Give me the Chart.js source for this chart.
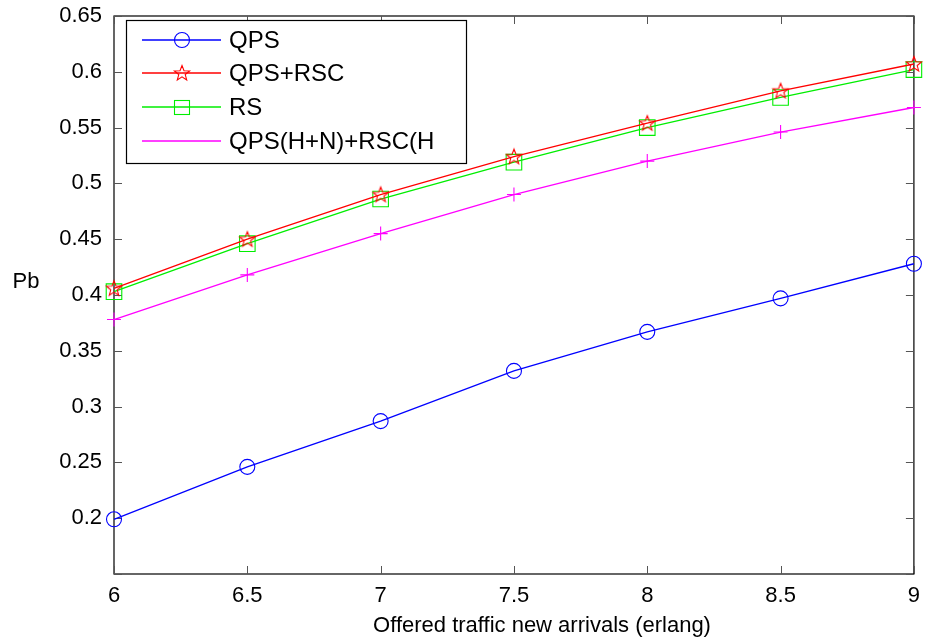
<!DOCTYPE html>
<html><head><meta charset="utf-8">
<script src="https://cdn.jsdelivr.net/npm/chart.js@4.4.0/dist/chart.umd.min.js"></script>
<style>html,body{margin:0;padding:0;background:#fff;}#wrap{width:926px;height:639px;position:relative;}</style>
</head><body><div id="wrap"><canvas id="c" width="926" height="639"></canvas></div>
<script>
const xValues = [6, 6.5, 7, 7.5, 8, 8.5, 9];
const qps = [0.199, 0.246, 0.287, 0.332, 0.367, 0.397, 0.428];
const qpsRsc = [0.406, 0.450, 0.490, 0.524, 0.554, 0.583, 0.607];
const rs = [0.403, 0.446, 0.486, 0.519, 0.550, 0.577, 0.602];
const qpsHN = [0.378, 0.418, 0.455, 0.490, 0.520, 0.546, 0.568];
const seriesNames = ['QPS', 'QPS+RSC', 'RS', 'QPS(H+N)+RSC(H'];
const xTitle = 'Offered traffic new arrivals (erlang)';
const yTitle = 'Pb';
const FONT = '"Liberation Sans", Arial, sans-serif';

function starImage(color){
  const s = 20, c = document.createElement('canvas'); c.width = s; c.height = s;
  const g = c.getContext('2d'); g.strokeStyle = color; g.lineWidth = 1.1;
  g.beginPath();
  const cx = s/2, cy = s/2 + 0.5, R = 8, r = 3.4;
  for (let i = 0; i < 10; i++) {
    const a = -Math.PI/2 + i*Math.PI/5, rr = i%2 ? r : R;
    const px = cx + rr*Math.cos(a), py = cy + rr*Math.sin(a);
    i ? g.lineTo(px, py) : g.moveTo(px, py);
  }
  g.closePath(); g.stroke();
  return c;
}
const star = starImage('#ff0000');

const pts = a => a.map((v,i)=>({x:xValues[i], y:v}));
const datasets = [
  {label: seriesNames[0], data: pts(qps), borderColor:'#0000ff', pointStyle:'circle', pointRadius:7.5, pointBorderColor:'#0000ff', pointBackgroundColor:'rgba(0,0,0,0)'},
  {label: seriesNames[1], data: pts(qpsRsc), borderColor:'#ff0000', pointStyle: star, pointRadius:8},
  {label: seriesNames[2], data: pts(rs), borderColor:'#00ee00', pointStyle:'rect', pointRadius:11, pointBorderColor:'#00ee00', pointBackgroundColor:'rgba(0,0,0,0)'},
  {label: seriesNames[3], data: pts(qpsHN), borderColor:'#ff00ff', pointStyle:'cross', pointRadius:7, pointBorderColor:'#ff00ff'}
].map(d=>Object.assign({borderWidth:1.3, pointBorderWidth:1.1, tension:0, fill:false, clip:false}, d));

const frame = {
  id:'frame',
  beforeDatasetsDraw(chart){
    const {ctx, chartArea:a, scales} = chart;
    ctx.save();
    ctx.strokeStyle = '#000'; ctx.lineWidth = 1.2;
    ctx.strokeRect(a.left, a.top, a.right-a.left, a.bottom-a.top);
    ctx.strokeStyle = '#555'; ctx.lineWidth = 1;
    const L = 8;
    scales.x.ticks.forEach(t=>{
      const px = Math.round(scales.x.getPixelForValue(t.value))+0.5;
      ctx.beginPath(); ctx.moveTo(px, a.bottom); ctx.lineTo(px, a.bottom-L);
      ctx.moveTo(px, a.top); ctx.lineTo(px, a.top+L); ctx.stroke();
    });
    scales.y.ticks.forEach(t=>{
      const py = Math.round(scales.y.getPixelForValue(t.value))+0.5;
      ctx.beginPath(); ctx.moveTo(a.left, py); ctx.lineTo(a.left+L, py);
      ctx.moveTo(a.right, py); ctx.lineTo(a.right-L, py); ctx.stroke();
    });
    ctx.restore();
  },
  afterDatasetsDraw(chart){
    const {ctx} = chart;
    ctx.save();
    ctx.fillStyle = '#000'; ctx.font = '22px ' + FONT;
    ctx.textAlign = 'center'; ctx.textBaseline = 'middle';
    ctx.fillText(xTitle, 542, 626);
    ctx.fillText(yTitle, 26, 282);
    const bx = 126, by = 20, bw = 340, bh = 143;
    ctx.fillStyle = '#fff'; ctx.fillRect(bx, by, bw, bh);
    ctx.strokeStyle = '#000'; ctx.lineWidth = 1.2; ctx.strokeRect(bx+0.5, by+0.5, bw, bh);
    const rows = [40, 73, 107, 141];
    chart.data.datasets.forEach((d,i)=>{
      const y = rows[i];
      ctx.strokeStyle = d.borderColor; ctx.lineWidth = 1.3;
      ctx.beginPath(); ctx.moveTo(142, y); ctx.lineTo(221, y); ctx.stroke();
      ctx.lineWidth = 1.1; const mx = 182;
      if (i === 0) { ctx.beginPath(); ctx.arc(mx, y, 7.5, 0, Math.PI*2); ctx.stroke(); }
      else if (i === 1) { ctx.drawImage(star, mx-10, y-10); }
      else if (i === 2) { ctx.strokeRect(mx-7.5, y-6.5, 15, 14); }
      ctx.fillStyle = '#000'; ctx.textAlign = 'left'; ctx.textBaseline = 'middle';
      ctx.font = '24px ' + FONT;
      ctx.fillText(d.label, 229, y+1);
    });
    ctx.restore();
  }
};

new Chart(document.getElementById('c'), {
  type:'line',
  data:{datasets},
  plugins:[frame],
  options:{
    responsive:false, animation:false, events:[],
    layout:{padding:{top:16, right:9, left:0, bottom:0}},
    plugins:{legend:{display:false}, tooltip:{enabled:false}},
    scales:{
      x:{type:'linear', min:6, max:9,
        afterFit(s){ s.height = 65; s.paddingLeft = 0; s.paddingRight = 0; },
        ticks:{stepSize:0.5, padding:0, color:'#000', font:{family:FONT, size:22}, maxRotation:0,
          callback:v=>String(Number(v.toFixed(2)))},
        grid:{display:false, drawTicks:true, tickLength:9}, border:{display:false}},
      y:{min:0.15, max:0.65,
        afterFit(s){ s.width = 114; s.paddingTop = 0; s.paddingBottom = 0; },
        ticks:{stepSize:0.05, padding:12, color:'#000', font:{family:FONT, size:22},
          callback:v=>{ const r = Number(v.toFixed(2)); return Math.abs(r-0.15)<1e-6 ? '' : String(r); }},
        grid:{display:false, drawTicks:false}, border:{display:false}}
    }
  }
});
</script></body></html>
